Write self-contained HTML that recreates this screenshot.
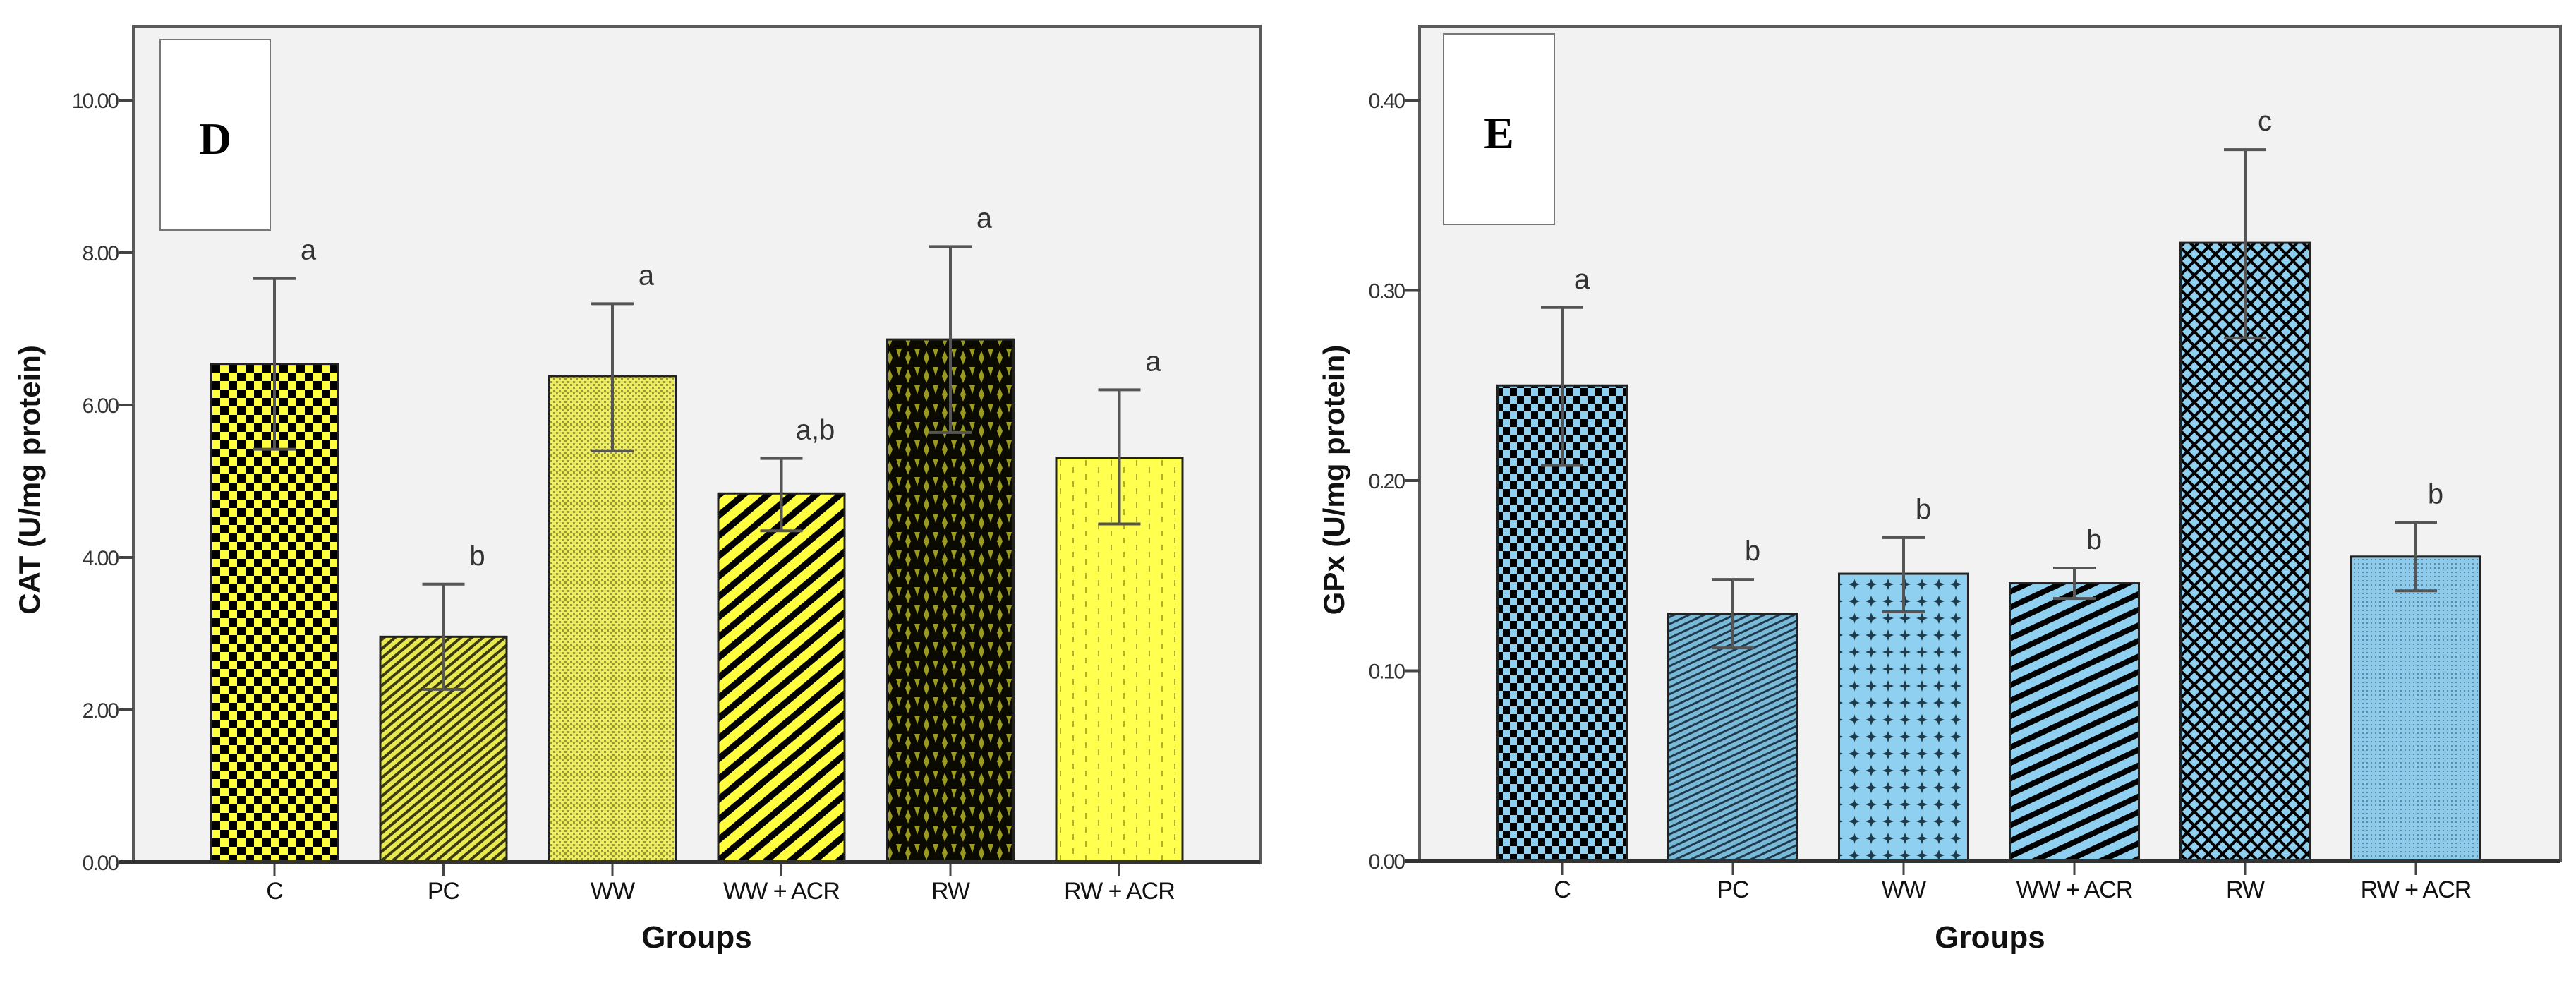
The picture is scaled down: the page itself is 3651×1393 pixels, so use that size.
<!DOCTYPE html>
<html><head><meta charset="utf-8">
<style>
html,body{margin:0;padding:0;background:#fff;}
svg{display:block;}
</style></head>
<body>
<svg id="fig" width="3651" height="1393" viewBox="0 0 3651 1393" xmlns="http://www.w3.org/2000/svg" font-family="Liberation Sans, sans-serif">
<defs>
  <pattern id="yC" width="24" height="24" patternUnits="userSpaceOnUse"><rect width="24" height="24" fill="#ffff40"/><rect width="12" height="12" fill="#000"/><rect x="12" y="12" width="12" height="12" fill="#000"/></pattern>
  <pattern id="yPC" width="10" height="10" patternUnits="userSpaceOnUse" patternTransform="rotate(-40)"><rect width="10" height="10" fill="#e8e850"/><rect width="10" height="4" fill="#3a3a10"/></pattern>
  <pattern id="yWW" width="8" height="8" patternUnits="userSpaceOnUse"><rect width="8" height="8" fill="#eded5a"/><rect width="3" height="3" fill="#9a9a30"/><rect x="4" y="4" width="3" height="3" fill="#9a9a30"/></pattern>
  <pattern id="yWWA" width="22" height="22" patternUnits="userSpaceOnUse" patternTransform="rotate(-40)"><rect width="22" height="22" fill="#ffff40"/><rect width="22" height="9" fill="#000"/></pattern>
  <pattern id="yRW" width="26" height="26" patternUnits="userSpaceOnUse"><rect width="26" height="26" fill="#0a0a00"/><path d="M13 3 L17 13 L13 23 L9 13Z" fill="#9a9a20"/><path d="M0 13 L4 0 L-4 0Z M26 13 L30 0 L22 0Z" fill="#9a9a20"/></pattern>
  <pattern id="yRWA" width="36" height="20" patternUnits="userSpaceOnUse"><rect width="36" height="20" fill="#ffff50"/><rect x="8" y="2" width="2" height="8" fill="#b0b030"/><rect x="26" y="12" width="2" height="8" fill="#b0b030"/></pattern>
  <pattern id="bC" width="20" height="22" patternUnits="userSpaceOnUse"><rect width="20" height="22" fill="#8fd0f0"/><rect width="10" height="11" fill="#000"/><rect x="10" y="11" width="10" height="11" fill="#000"/></pattern>
  <pattern id="bPC" width="9" height="9" patternUnits="userSpaceOnUse" patternTransform="rotate(-25)"><rect width="9" height="9" fill="#7ab8d8"/><rect width="9" height="3" fill="#1e3a4a"/></pattern>
  <pattern id="bWW" width="24" height="24" patternUnits="userSpaceOnUse"><rect width="24" height="24" fill="#8fd0f0"/><path d="M12 4 L15 12 L12 20 L9 12Z M4 12 L12 9 L20 12 L12 15Z" fill="#1e3a4a"/></pattern>
  <pattern id="bWWA" width="20" height="20" patternUnits="userSpaceOnUse" patternTransform="rotate(-25)"><rect width="20" height="20" fill="#8fd0f0"/><rect width="20" height="8" fill="#000"/></pattern>
  <pattern id="bRW" width="20" height="20" patternUnits="userSpaceOnUse"><rect width="20" height="20" fill="#8fd0f0"/><path d="M0 0 L20 20 M20 0 L0 20" stroke="#000" stroke-width="4"/></pattern>
  <pattern id="bRWA" width="6" height="6" patternUnits="userSpaceOnUse"><rect width="6" height="6" fill="#8ecaea"/><rect width="2" height="2" fill="#5a8aa8"/></pattern>
</defs>
<g id="root"></g>
</svg>
<script>
const categories = ["C","PC","WW","WW + ACR","RW","RW + ACR"];
const catValues = [6.54, 2.96, 6.38, 4.84, 6.86, 5.31];
const catErrLow = [5.42, 2.27, 5.40, 4.35, 5.64, 4.44];
const catErrHigh = [7.66, 3.65, 7.33, 5.30, 8.08, 6.20];
const catLetters = ["a","b","a","a,b","a","a"];
const catTicks = [0, 2, 4, 6, 8, 10];
const catTickLabels = ["0.00","2.00","4.00","6.00","8.00","10.00"];
const gpxValues = [0.250, 0.130, 0.151, 0.146, 0.325, 0.160];
const gpxErrLow = [0.208, 0.112, 0.131, 0.138, 0.275, 0.142];
const gpxErrHigh = [0.291, 0.148, 0.170, 0.154, 0.374, 0.178];
const gpxLetters = ["a","b","b","b","c","b"];
const gpxTicks = [0, 0.1, 0.2, 0.3, 0.4];
const gpxTickLabels = ["0.00","0.10","0.20","0.30","0.40"];

const NS = "http://www.w3.org/2000/svg";
const root = document.getElementById('root');
function mk(tag, attrs, parent, txt){
  const e = document.createElementNS(NS, tag);
  for (const k in attrs) e.setAttribute(k, attrs[k]);
  if (txt !== undefined) e.textContent = txt;
  (parent||root).appendChild(e);
  return e;
}

function drawChart(cfg){
  const g = mk('g', {});
  
  
  const y = v => cfg.y0 - v * cfg.ppu;
  const x = i => cfg.x0 + i * cfg.step;
  const bg = mk('rect', {x: cfg.left, y: cfg.top, width: cfg.right - cfg.left, height: cfg.y0 - cfg.top, fill: '#f2f2f2', stroke: '#5a5a5a', 'stroke-width': 4}, g);
  
  
  const lb = mk('rect', {x: cfg.box[0], y: cfg.box[1], width: cfg.box[2], height: cfg.box[3], fill: '#fff', stroke: '#777', 'stroke-width': 2}, g);
  
  
  const lt = mk('text', {x: cfg.box[0] + cfg.box[2]/2, y: cfg.box[1] + 162, 'text-anchor': 'middle', 'font-size': 64, 'font-weight': 'bold', style: 'font-family:"Liberation Serif",serif', fill: '#000'}, g, cfg.panel);
  
  
  cfg.ticks.forEach((t, i) => {
    const tk = mk('line', {x1: cfg.left - 20, x2: cfg.left, y1: y(t), y2: y(t), stroke: '#444', 'stroke-width': 4}, g);
    
    
    const tl = mk('text', {x: cfg.left - 22, y: y(t) + 11, 'text-anchor': 'end', 'font-size': 30, fill: '#333', 'letter-spacing': '-2'}, g, cfg.tickLabels[i]);
    
    
  });
  categories.forEach((c, i) => {
    const cx = x(i);
    const b = mk('rect', {x: cx - cfg.bw/2, y: y(cfg.values[i]), width: cfg.bw, height: cfg.y0 - y(cfg.values[i]), fill: 'url(#' + cfg.pats[i] + ')', stroke: '#222', 'stroke-width': 3}, g);
    
    
    const eb = mk('path', {d: 'M' + cx + ' ' + y(cfg.low[i]) + 'V' + y(cfg.high[i]) + 'M' + (cx - 30) + ' ' + y(cfg.high[i]) + 'H' + (cx + 30) + 'M' + (cx - 30) + ' ' + y(cfg.low[i]) + 'H' + (cx + 30), stroke: '#555', 'stroke-width': 4, fill: 'none'}, g);
    
    
    const le = mk('text', {x: cx + cfg.letterDx, y: y(cfg.high[i]) - 27, 'text-anchor': 'middle', 'font-size': 40, fill: '#333'}, g, cfg.letters[i]);
    
    
    const xt = mk('line', {x1: cx, x2: cx, y1: cfg.y0, y2: cfg.y0 + 20, stroke: '#444', 'stroke-width': 3}, g);
    
    
    const xl = mk('text', {x: cx, y: cfg.y0 + 52, 'text-anchor': 'middle', 'font-size': 34, fill: '#111', 'letter-spacing': '-1'}, g, c);
    
    
  });
  const ax = mk('line', {x1: cfg.left - 20, x2: cfg.right, y1: cfg.y0, y2: cfg.y0, stroke: '#333', 'stroke-width': 6}, g);
  
  
  const xtitle = mk('text', {x: (cfg.left + cfg.right)/2, y: 1343, 'text-anchor': 'middle', 'font-size': 44, 'font-weight': 'bold', fill: '#111'}, g, 'Groups');
  
  
  const ytitle = mk('text', {x: 0, y: 0, 'text-anchor': 'middle', 'font-size': 42, 'font-weight': 'bold', fill: '#111', transform: 'translate(' + cfg.ytx + ',680) rotate(-90)'}, g, cfg.ytitle);
  
  
}

drawChart({name: 'cat-chart', panel: 'D', left: 189, right: 1786, top: 37, y0: 1222, ppu: 108,
  x0: 389, step: 239.5, bw: 179, box: [227, 56, 156, 270],
  ticks: catTicks, tickLabels: catTickLabels, values: catValues, low: catErrLow, high: catErrHigh, letters: catLetters,
  pats: ['yC','yPC','yWW','yWWA','yRW','yRWA'], letterDx: 48, ytitle: 'CAT (U/mg protein)', ytx: 56});
drawChart({name: 'gpx-chart', panel: 'E', left: 2012, right: 3629, top: 37, y0: 1220, ppu: 2695,
  x0: 2214, step: 242, bw: 183, box: [2046, 48, 157, 270],
  ticks: gpxTicks, tickLabels: gpxTickLabels, values: gpxValues, low: gpxErrLow, high: gpxErrHigh, letters: gpxLetters,
  pats: ['bC','bPC','bWW','bWWA','bRW','bRWA'], letterDx: 28, ytitle: 'GPx (U/mg protein)', ytx: 1905});
</script>
</body></html>
